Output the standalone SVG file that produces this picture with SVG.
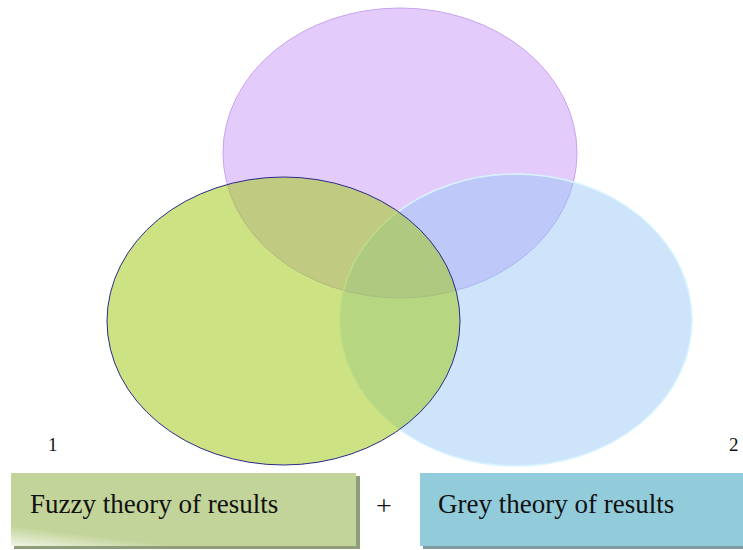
<svg xmlns="http://www.w3.org/2000/svg" width="743" height="550" viewBox="0 0 743 550">
<style>
text{font-family:"Liberation Serif","Times New Roman",serif;fill:#111}
.lbl{font-size:27px}
.num{font-size:19px}
.plus{font-size:28px}
</style>
<defs>
<linearGradient id="shine" x1="0" y1="1" x2="0.35" y2="0.4">
<stop offset="0" stop-color="#ffffff" stop-opacity="0.75"/>
<stop offset="0.35" stop-color="#ffffff" stop-opacity="0"/>
</linearGradient>
</defs>
<rect width="743" height="550" fill="#fff"/>
<g id="purple">
<ellipse cx="400" cy="153" rx="177" ry="145" fill="#e3ccfb" stroke="#c9a2f0" stroke-width="1"/>
</g>
<g id="blue">
<ellipse cx="516" cy="320" rx="176" ry="146" fill="rgb(145,197,246)" fill-opacity="0.46" stroke="#d8f4ff" stroke-width="1.5"/>
</g>
<g id="green">
<ellipse cx="283.5" cy="321" rx="176.5" ry="144" fill="rgb(162,201,25)" fill-opacity="0.54" stroke="#2a2a8a" stroke-width="1"/>
</g>
<g id="box1">
<rect x="14" y="476" width="346" height="73" fill="#8f9e78"/>
<rect x="11" y="473" width="345" height="73" fill="#c3d49a"/>
<rect x="11" y="473" width="345" height="73" fill="url(#shine)"/>
<text class="lbl" x="30" y="513">Fuzzy theory of results</text>
</g>
<g id="plus">
<text class="plus" x="376" y="515">+</text>
</g>
<g id="box2">
<rect x="423" y="476" width="320" height="73" fill="#7f9aa2"/>
<rect x="420" y="473" width="323" height="73" fill="#92ccdb"/>
<text class="lbl" x="438" y="513">Grey theory of results</text>
</g>
<g id="labels">
<text class="num" x="48" y="451">1</text>
<text class="num" x="729" y="451">2</text>
</g>
</svg>
